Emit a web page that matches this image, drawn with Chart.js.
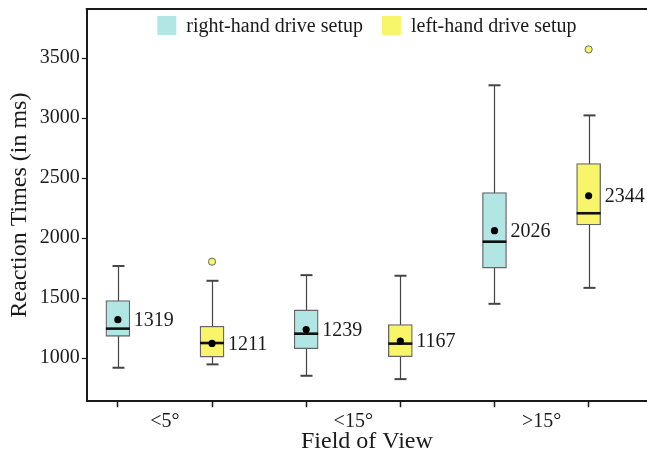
<!DOCTYPE html>
<html><head><meta charset="utf-8">
<script src="https://cdn.jsdelivr.net/npm/chart.js@4/dist/chart.umd.min.js"></script>
<style>html,body{margin:0;padding:0;background:#fff}#wrap{width:647px;height:456px}</style>
</head><body><div id="wrap"><canvas id="c" width="647" height="456"></canvas></div>
<script>
// ---- data ----
const groupLabels = ['<5°', '<15°', '>15°'];
const seriesNames = ['right-hand drive setup', 'left-hand drive setup'];
const rightPos = [1, 3, 5];
const leftPos = [2, 4, 6];
// right-hand drive setup
const rightWhiskerLow = [919, 852, 1452];
const rightQ1 = [1181, 1078, 1750];
const rightMedian = [1245, 1203, 1970];
const rightQ3 = [1479, 1401, 2380];
const rightWhiskerHigh = [1767, 1691, 3274];
const rightMean = [1320, 1237, 2062];
const rightMeanLabels = ['1319', '1239', '2026'];
const rightOutliers = [[], [], []];
// left-hand drive setup
const leftWhiskerLow = [947, 824, 1585];
const leftQ1 = [1008, 1011, 2110];
const leftMedian = [1125, 1120, 2207];
const leftQ3 = [1265, 1279, 2622];
const leftWhiskerHigh = [1644, 1686, 3023];
const leftMean = [1122, 1142, 2352];
const leftMeanLabels = ['1211', '1167', '2344'];
const leftOutliers = [[1803], [], [3573]];
const yTicks = [1000, 1500, 2000, 2500, 3000, 3500];

const FONT = '"Liberation Serif", "Times New Roman", serif';
const CYAN = '#b2e6e4', YELLOW = '#f8f56a', EDGE = '#666666', INK = '#1a1a1a';

const series = [
  {name: seriesNames[0], pos: rightPos, lo: rightWhiskerLow, q1: rightQ1, med: rightMedian, q3: rightQ3, hi: rightWhiskerHigh, mean: rightMean, lab: rightMeanLabels, out: rightOutliers, color: CYAN},
  {name: seriesNames[1], pos: leftPos, lo: leftWhiskerLow, q1: leftQ1, med: leftMedian, q3: leftQ3, hi: leftWhiskerHigh, mean: leftMean, lab: leftMeanLabels, out: leftOutliers, color: YELLOW}
];

const datasets = [];
series.forEach((s, si) => {
  datasets.push({
    type: 'bar', label: s.name, order: 3, grouped: false,
    data: s.pos.map((p, i) => ({x: p, y: [s.q1[i], s.q3[i]]})),
    backgroundColor: s.color, borderColor: EDGE, borderWidth: 1.3, borderSkipped: false,
    barThickness: 24, seriesIndex: si
  });
});
series.forEach((s, si) => {
  const pts = [];
  s.pos.forEach((p, i) => s.out[i].forEach(v => pts.push({x: p, y: v})));
  datasets.push({
    type: 'scatter', label: 'outliers' + si, order: 2, data: pts,
    pointRadius: 3.6, pointBackgroundColor: s.color, pointBorderColor: EDGE, pointBorderWidth: 1
  });
  datasets.push({
    type: 'scatter', label: 'mean' + si, order: 1,
    data: s.pos.map((p, i) => ({x: p, y: s.mean[i]})),
    pointRadius: 3.6, pointBackgroundColor: '#000', pointBorderColor: '#000', pointBorderWidth: 0
  });
});

const boxPlugin = {
  id: 'boxparts',
  beforeDatasetsDraw(chart) {
    const {ctx, scales: {x, y}} = chart;
    ctx.save();
    ctx.strokeStyle = '#444'; ctx.lineWidth = 1.2;
    series.forEach(s => s.pos.forEach((p, i) => {
      const px = Math.round(x.getPixelForValue(p)) + 0.5;
      ctx.beginPath();
      ctx.moveTo(px, y.getPixelForValue(s.lo[i]));
      ctx.lineTo(px, y.getPixelForValue(s.hi[i]));
      ctx.stroke();
      [s.lo[i], s.hi[i]].forEach(v => {
        const py = y.getPixelForValue(v);
        ctx.beginPath(); ctx.lineWidth = 2;
        ctx.moveTo(px - 6, py); ctx.lineTo(px + 6, py); ctx.stroke();
        ctx.lineWidth = 1.2;
      });
    }));
    ctx.restore();
  },
  afterDatasetDraw(chart, args) {
    const ds = chart.data.datasets[args.index];
    if (ds.type !== 'bar') return;
    const s = series[ds.seriesIndex];
    const {ctx, scales: {x, y}} = chart;
    ctx.save();
    ctx.strokeStyle = '#111'; ctx.lineWidth = 2.6;
    s.pos.forEach((p, i) => {
      const px = x.getPixelForValue(p), py = y.getPixelForValue(s.med[i]);
      ctx.beginPath(); ctx.moveTo(px - 12, py); ctx.lineTo(px + 12, py); ctx.stroke();
    });
    ctx.restore();
  },
  afterDraw(chart) {
    const {ctx, chartArea: a, scales: {x, y}} = chart;
    ctx.save();
    // top frame line
    ctx.strokeStyle = INK; ctx.lineWidth = 2;
    ctx.beginPath(); ctx.moveTo(a.left - 1, a.top); ctx.lineTo(chart.width, a.top); ctx.stroke();
    // mean labels
    ctx.fillStyle = INK; ctx.font = '20px ' + FONT; ctx.textBaseline = 'middle'; ctx.textAlign = 'left';
    series.forEach(s => s.pos.forEach((p, i) => {
      ctx.fillText(s.lab[i], x.getPixelForValue(p) + 16, y.getPixelForValue(s.mean[i]) + 1);
    }));
    // legend (inside plot, top centre)
    const box = 19, gapText = 10, gapItem = 19;
    const widths = series.map(s => ctx.measureText(s.name).width);
    const total = widths.reduce((t, w) => t + box + gapText + w, 0) + gapItem;
    let cx = (a.left + a.right) / 2 - total / 2;
    const top = a.top + 7;
    series.forEach((s, i) => {
      ctx.fillStyle = s.color;
      ctx.fillRect(cx, top, box, box);
      ctx.fillStyle = INK;
      ctx.fillText(s.name, cx + box + gapText, top + box / 2 + 1);
      cx += box + gapText + widths[i] + gapItem;
    });
    ctx.restore();
  }
};

const xTickVals = [1, 1.5, 2, 3, 3.5, 4, 5, 5.5, 6];
const groupCenters = [1.5, 3.5, 5.5];

new Chart(document.getElementById('c'), {
  data: {datasets},
  plugins: [boxPlugin],
  options: {
    responsive: false, animation: false,
    layout: {autoPadding: false, padding: {left: 5, top: 9, right: 0, bottom: 0}},
    plugins: {
      tooltip: {enabled: false},
      legend: {display: false}
    },
    scales: {
      x: {
        type: 'linear', min: 0.67, max: 6.62, offset: false,
        afterBuildTicks: sc => { sc.ticks = xTickVals.map(v => ({value: v})); },
        afterFit: sc => { sc.paddingLeft = 0; sc.paddingRight = 0; },
        ticks: {
          autoSkip: false, maxRotation: 0, color: INK, padding: 3,
          font: {family: FONT, size: 20},
          callback: v => { const k = groupCenters.indexOf(v); return k >= 0 ? groupLabels[k] : ''; }
        },
        grid: {offset: false, drawOnChartArea: false, tickLength: 6, tickWidth: 1.5,
          tickColor: c => (c.tick && groupCenters.includes(c.tick.value)) ? 'rgba(0,0,0,0)' : INK},
        border: {display: true, color: INK, width: 2},
        title: {display: true, text: 'Field of View', color: INK, font: {family: FONT, size: 24}, padding: {top: -10, bottom: 0}}
      },
      y: {
        type: 'linear', min: 640, max: 3910,
        afterBuildTicks: sc => { sc.ticks = yTicks.map(v => ({value: v})); },
        afterFit: sc => { sc.paddingTop = 0; sc.paddingBottom = 0; },
        ticks: {color: INK, padding: 2, font: {family: FONT, size: 20}, callback: v => String(v)},
        grid: {drawOnChartArea: false, tickLength: 5, tickWidth: 1.2, tickColor: INK},
        border: {display: true, color: INK, width: 2},
        title: {display: true, text: 'Reaction Times (in ms)', color: INK, font: {family: FONT, size: 24}, padding: {top: 0, bottom: 4}}
      }
    }
  }
});
</script>
</body></html>
